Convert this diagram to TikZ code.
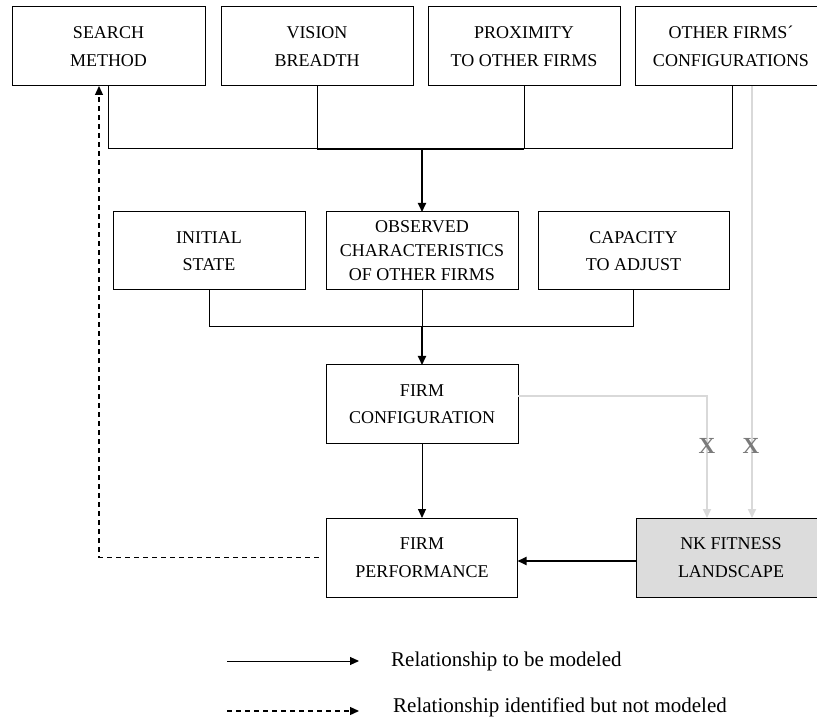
\documentclass[tikz,border=0pt]{standalone}
\usepackage{fontspec}
\setmainfont{Liberation Serif}
\usetikzlibrary{arrows.meta}
\definecolor{lightline}{HTML}{D9D9D9}
\definecolor{xgray}{HTML}{7A7A7A}
\definecolor{nkfill}{HTML}{DCDCDC}
\tikzset{
  box/.style={draw=black, line width=1pt, inner sep=0pt, outer sep=0pt,
    minimum width=192pt, minimum height=79pt, align=center,
    font=\fontsize{18}{27.5}\selectfont},
  box3/.style={box, font=\fontsize{18}{24}\selectfont},
  conn/.style={line width=1pt},
  thickconn/.style={line width=1.8pt},
  tip/.style={-{Triangle[length=9pt,width=8pt]}},
  dashconn/.style={line width=1.3pt, dash pattern=on 5pt off 4pt},
  grayconn/.style={lightline, line width=1.7pt, -{Triangle[length=9pt,width=8pt]}},
  xlabel/.style={text=xgray, font=\fontsize{23}{23}\selectfont, inner sep=0pt},
  legendtext/.style={anchor=west, inner sep=0pt, font=\fontsize{21}{21}\selectfont}
}
\begin{document}
\begin{tikzpicture}[x=1pt, y=-1pt]
\useasboundingbox (0,0) rectangle (817,719);

% top row
\node[box, minimum width=193pt] (search) at (108.5,46.5) {SEARCH\\METHOD};
\node[box] (vision) at (317,46.5) {VISION\\BREADTH};
\node[box] (prox) at (524,46.5) {PROXIMITY\\TO OTHER FIRMS};
\node[box] (other) at (731,46.5) {OTHER FIRMS´\\CONFIGURATIONS};

% middle row
\node[box, minimum height=78pt] (init) at (209,251) {INITIAL\\STATE};
\node[box3, minimum height=78pt] (obs) at (422,251) {OBSERVED\\CHARACTERISTICS\\OF OTHER FIRMS};
\node[box, minimum width=191pt, minimum height=78pt] (cap) at (633.5,251) {CAPACITY\\TO ADJUST};

% lower boxes
\node[box, minimum height=78pt] (fc) at (422,404) {FIRM\\CONFIGURATION};
\node[box, minimum width=191pt] (fp) at (422,557.5) {FIRM\\PERFORMANCE};
\node[box, fill=nkfill, minimum width=190pt] (nk) at (731,557.5) {NK FITNESS\\LANDSCAPE};

% junctions
\coordinate (j1) at (422,149);
\coordinate (j2) at (422,327);
\coordinate (dx) at (99,0);
\coordinate (g1) at (707,0);
\coordinate (g2) at (752,0);

% top collector
\draw[conn] (search.south) |- (vision.south |- j1);
\draw[thickconn] (vision.south |- j1) -- (prox.south |- j1);
\draw[conn] (vision.south) -- (vision.south |- j1);
\draw[conn] (prox.south) -- (prox.south |- j1);
\draw[conn] ([xshift=1pt]other.south) |- (prox.south |- j1);
\draw[thickconn, tip] (j1) -- (obs.north);

% middle collector
\draw[conn] (init.south) |- (cap.south |- j2);
\draw[conn] (cap.south) -- (cap.south |- j2);
\draw[conn] (obs.south) -- (j2);
\draw[thickconn, tip] (j2) -- (fc.north);

% lower
\draw[conn, tip] (fc.south) -- (fp.north);
\draw[thickconn, tip] ([yshift=-3.5pt]nk.west) -- ([yshift=-3.5pt]fp.east);
\draw[dashconn, tip] ([xshift=-8pt]fp.west) -| (dx |- search.south);

% gray links
\draw[grayconn] ([yshift=8pt]fc.east) -| (g1 |- nk.north);
\draw[grayconn] (g2 |- other.south) -- (g2 |- nk.north);
\node[xlabel] (xa) at (707,446) {\textbf{X}};
\node[xlabel] (xb) at (751,446) {\textbf{X}};

% legend
\coordinate (ls1) at (227,661);
\coordinate (le1) at (359,661);
\coordinate (ls2) at (227,711);
\coordinate (le2) at (359,711);
\draw[conn, tip] (ls1) -- (le1);
\draw[dashconn, tip] (ls2) -- (le2);
\node[legendtext] (lt1) at (391,661) {Relationship to be modeled};
\node[legendtext] (lt2) at (393,707) {Relationship identified but not modeled};
\end{tikzpicture}
\end{document}
